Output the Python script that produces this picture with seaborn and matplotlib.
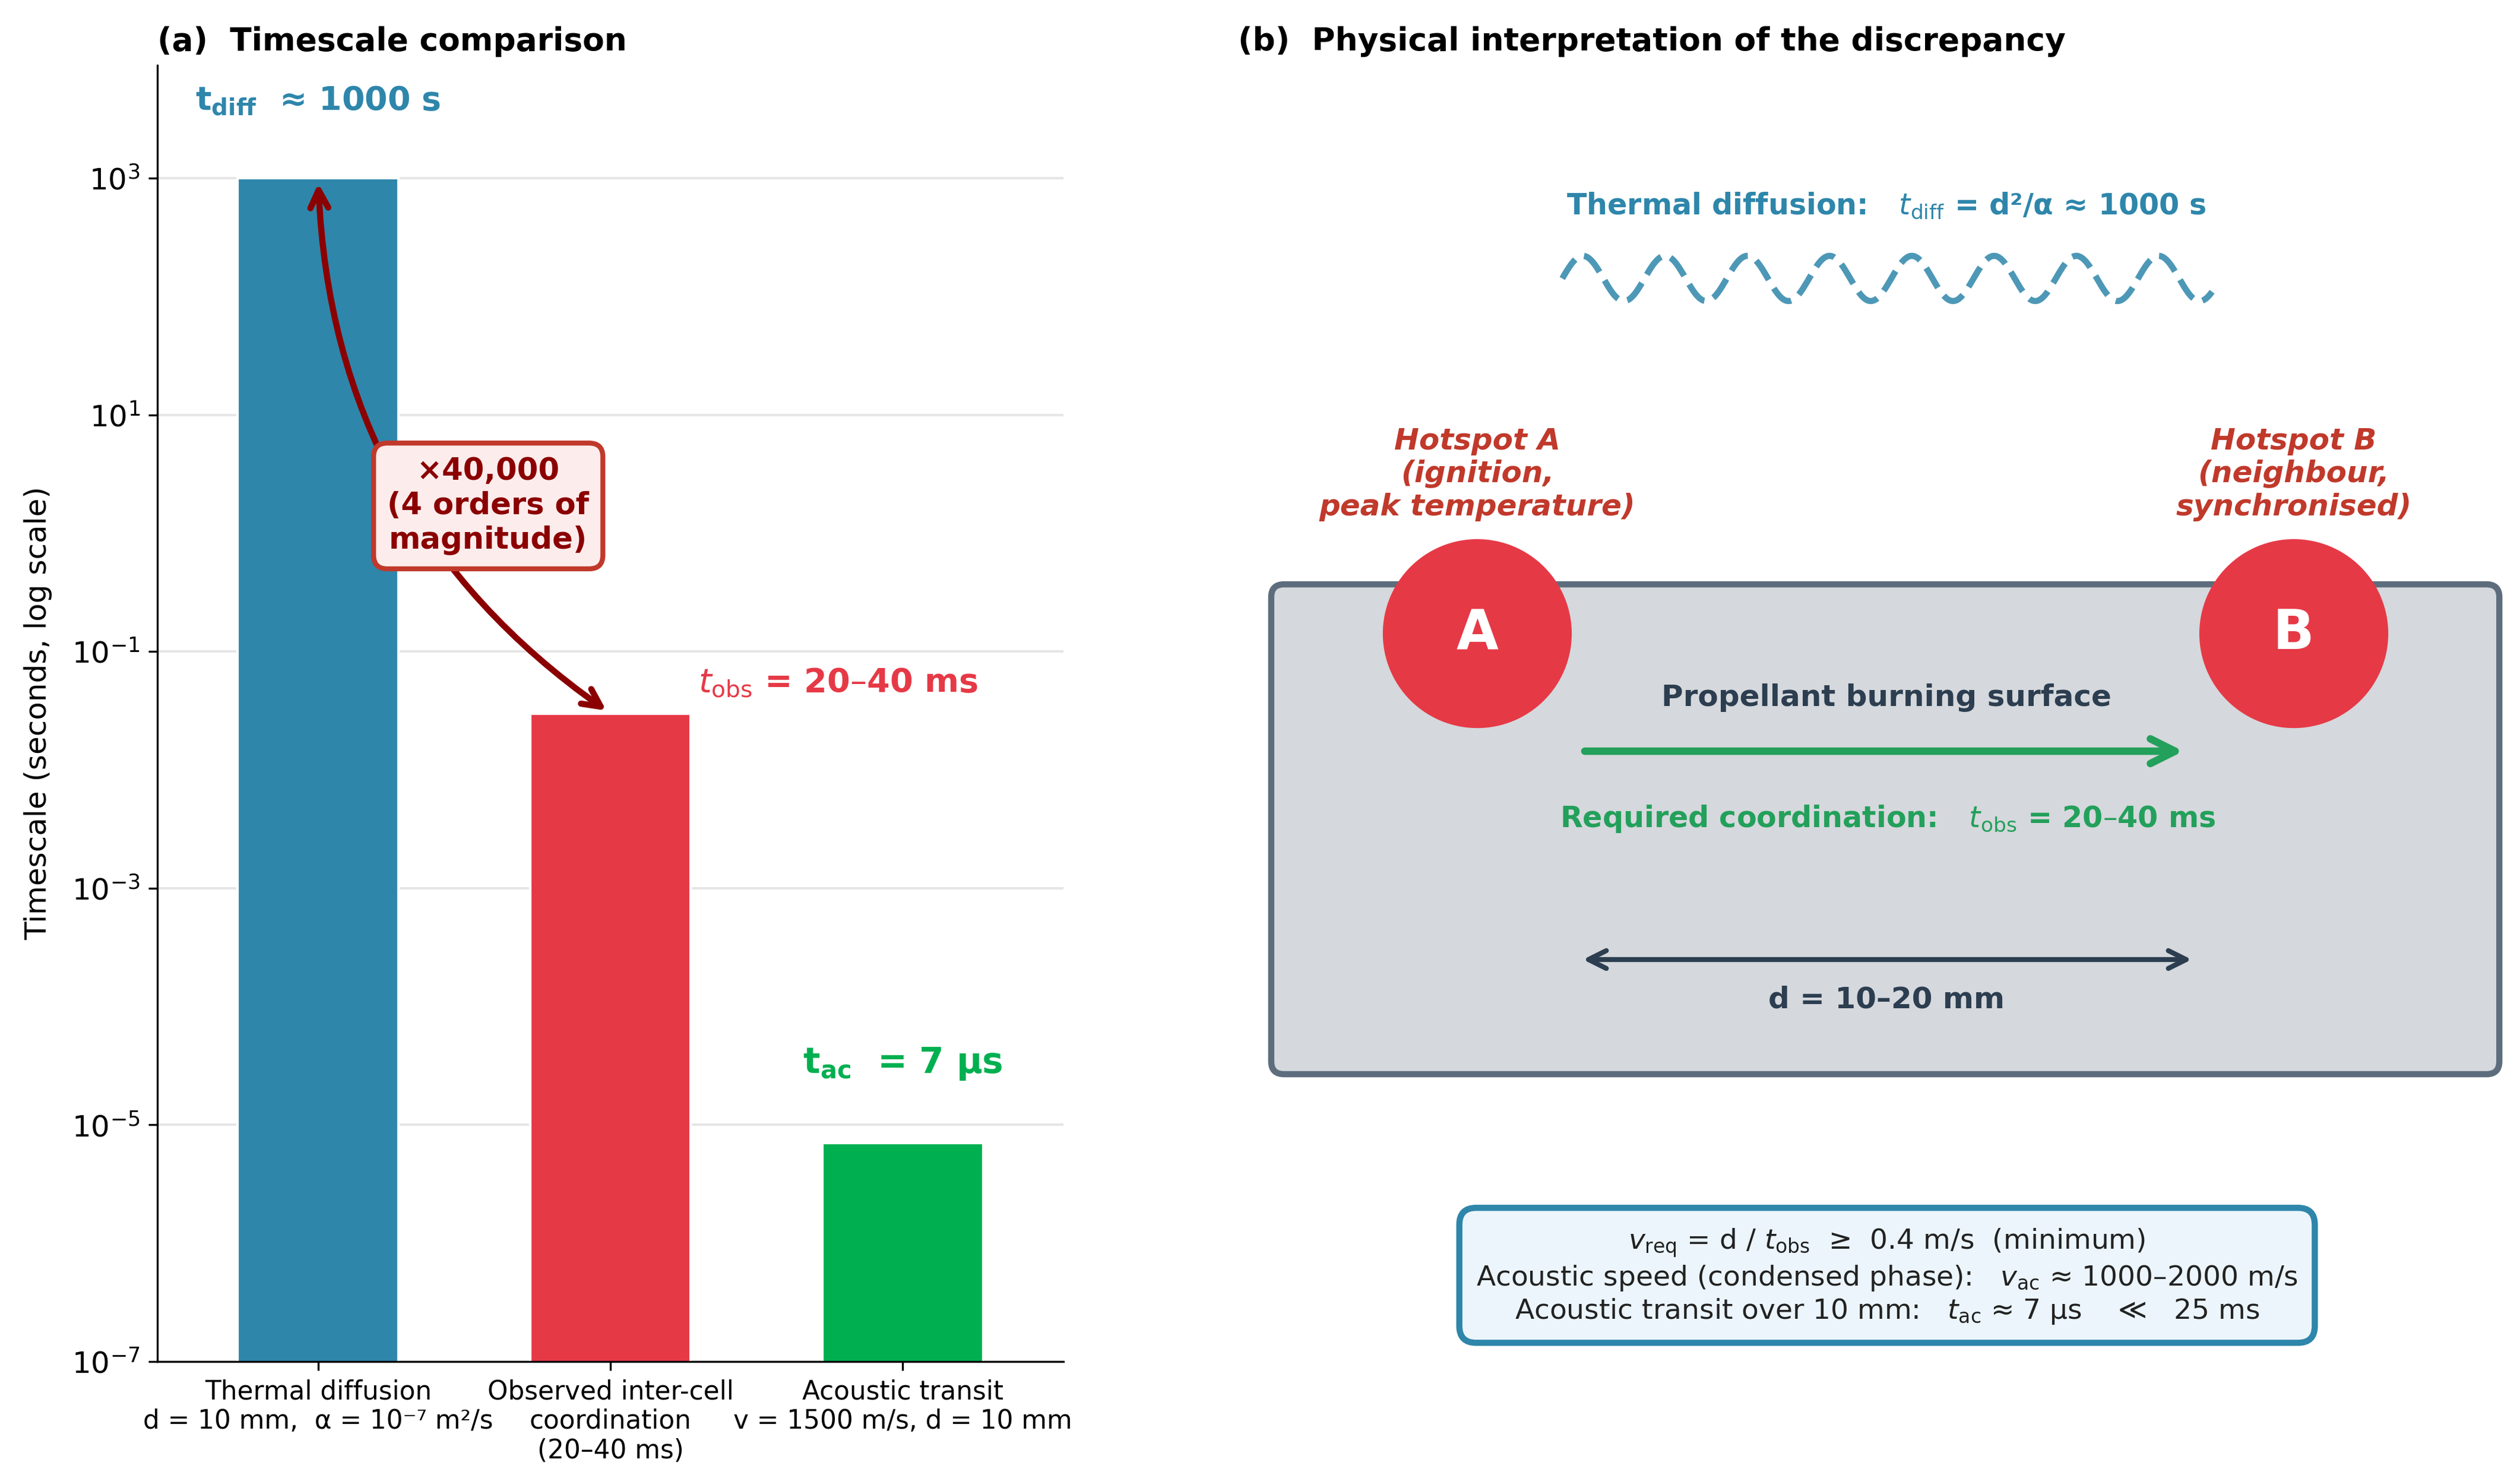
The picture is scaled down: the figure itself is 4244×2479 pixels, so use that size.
import numpy as np
import seaborn as sns
import matplotlib.pyplot as plt
from matplotlib.patches import FancyBboxPatch, Circle
from matplotlib.ticker import NullLocator

# bar data (panel a)
categories = ["Thermal diffusion\nd = 10 mm,  α = 10⁻⁷ m²/s",
              "Observed inter-cell\ncoordination\n(20–40 ms)",
              "Acoustic transit\nv = 1500 m/s, d = 10 mm"]
timescales = [1000, 0.03, 7e-6]
bar_colors = ['#2E86AB', '#E63946', '#00B050']

BLUE = '#2E86AB'
RED = '#E63946'
GREEN = '#00B050'
DARKRED = '#8B0000'
HOT = '#C0392B'
NAVY = '#2C3E50'
SGREEN = '#23A05B'

W, H = 4244, 2479
fig = plt.figure(figsize=(W / 300, H / 300), dpi=300)

# ---------------- panel (a)
ax = fig.add_axes([265 / W, 186 / H, 1526 / W, 2183 / H])
sns.barplot(x=categories, y=timescales, hue=categories, palette=bar_colors,
            legend=False, width=0.55, saturation=1, edgecolor='white',
            linewidth=1, ax=ax)
ax.set_yscale('log')
ax.set_ylim(1e-7, 9e3)
ax.set_xlim(-0.55, 2.55)
ax.yaxis.set_minor_locator(NullLocator())
ax.set_axisbelow(True)
ax.yaxis.grid(True, color='#E6E6E6', lw=1)
sns.despine(ax=ax)
ax.tick_params(axis='y', labelsize=12)
ax.tick_params(axis='x', labelsize=10.5)
ax.set_xlabel('')
ax.set_ylabel('Timescale (seconds, log scale)', fontsize=12, labelpad=8)
ax.set_title('(a)  Timescale comparison', loc='left', fontsize=12.8, fontweight='bold')

ax.text(0, 4470, r'$\mathbf{t_{diff}}$  ≈ 1000 s', ha='center', va='center',
        fontsize=13.3, fontweight='bold', color=BLUE)
ax.text(1.3, 0.055, r'$t_{\rm obs}$ = 20–40 ms', ha='left', va='center',
        fontsize=13.4, fontweight='bold', color=RED)
ax.text(2, 3.3e-5, r'$\mathbf{t_{ac}}$  = 7 μs', ha='center', va='center',
        fontsize=14.3, fontweight='bold', color=GREEN)

ax.annotate('', xy=(0, 1000), xytext=(1, 0.03),
            arrowprops=dict(arrowstyle='<->', color=DARKRED, lw=2.5,
                            mutation_scale=18,
                            connectionstyle='arc3,rad=-0.25'))
ax.text(0.582, 1.7, '×40,000\n(4 orders of\nmagnitude)', ha='center', va='center',
        fontsize=12.3, fontweight='bold', color=DARKRED, zorder=5,
        bbox=dict(boxstyle='round,pad=0.45', fc='#FDECEC', ec=HOT, lw=2))

# ---------------- panel (b)
bx = fig.add_axes([2085 / W, 186 / H, 2150 / W, 2183 / H])
bx.set_xlim(0, 10)
bx.set_ylim(0, 2183 / 215)
bx.axis('off')
bx.set_title('(b)  Physical interpretation of the discrepancy', loc='left',
             fontsize=12.8, fontweight='bold')

bx.text(5.08, 9.056, r'Thermal diffusion:   $t_{\rm diff}$ = d²/α ≈ 1000 s',
        ha='center', va='center', fontsize=11.8, fontweight='bold', color=BLUE)

# decorative diffusion wave
wave_x0, wave_x1, wave_y, wave_amp, wave_periods = 2.54, 7.63, 8.484, 0.177, 7.9
wx = np.linspace(wave_x0, wave_x1, 400)
wy = wave_y + wave_amp * np.sin(2 * np.pi * wave_periods * (wx - wave_x0) / (wave_x1 - wave_x0))
bx.plot(wx, wy, ls='--', lw=2.5, color=BLUE, alpha=0.85)

surface = FancyBboxPatch((0.26, 2.251), 9.62, 3.837,
                         boxstyle='round,pad=0,rounding_size=0.1',
                         fc='#D5D8DC', ec='#5D6D7E', lw=2.5, zorder=1)
bx.add_patch(surface)

for cx, letter, label in [(1.874, 'A', 'Hotspot A\n(ignition,\npeak temperature)'),
                          (8.27, 'B', 'Hotspot B\n(neighbour,\nsynchronised)')]:
    bx.add_patch(Circle((cx, 5.702), 0.74, fc=RED, ec='none', zorder=3))
    bx.text(cx, 5.702, letter, ha='center', va='center', fontsize=22,
            fontweight='bold', color='white', zorder=4)
    bx.text(cx, 6.953, label, ha='center', va='center', fontsize=12,
            fontweight='bold', fontstyle='italic', color=HOT)

bx.text(5.08, 5.2, 'Propellant burning surface', ha='center', va='center',
        fontsize=12, fontweight='bold', color=NAVY, zorder=4)
bx.annotate('', xy=(7.405, 4.781), xytext=(2.716, 4.781),
            arrowprops=dict(arrowstyle='->', color=SGREEN, lw=3, mutation_scale=25,
                            shrinkA=0, shrinkB=0), zorder=4)
bx.text(5.088, 4.251, r'Required coordination:   $t_{\rm obs}$ = 20–40 ms',
        ha='center', va='center', fontsize=11.8, fontweight='bold', color=SGREEN, zorder=4)
bx.annotate('', xy=(7.47, 3.149), xytext=(2.702, 3.149),
            arrowprops=dict(arrowstyle='<->', color=NAVY, lw=2, mutation_scale=18,
                            shrinkA=0, shrinkB=0), zorder=4)
bx.text(5.08, 2.837, 'd = 10–20 mm', ha='center', va='center',
        fontsize=12, fontweight='bold', color=NAVY, zorder=4)

info = (r'$v_{\rm req}$ = d / $t_{\rm obs}$  ≥  0.4 m/s  (minimum)' + '\n'
        r'Acoustic speed (condensed phase):   $v_{\rm ac}$ ≈ 1000–2000 m/s' + '\n'
        r'Acoustic transit over 10 mm:   $t_{\rm ac}$ ≈ 7 μs    ≪   25 ms')
bx.text(5.084, 0.665, info, ha='center', va='center', fontsize=11.3, color='#222222',
        bbox=dict(boxstyle='round,pad=0.6', fc='#EBF5FB', ec=BLUE, lw=2.5))

fig.savefig('out.png', dpi=300)
